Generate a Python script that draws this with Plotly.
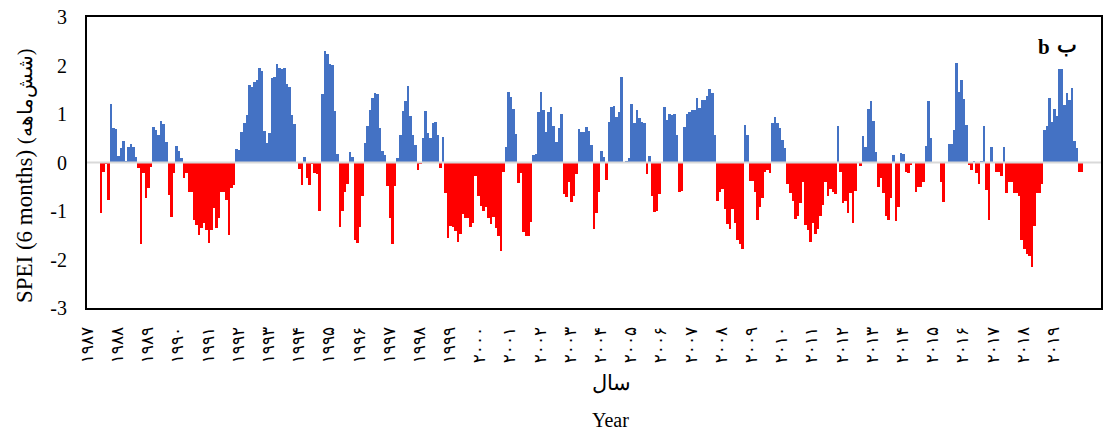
import plotly.graph_objects as go

# ---------------- data ----------------
years = list(range(1987, 2020))
persian_digits = str.maketrans("0123456789", "۰۱۲۳۴۵۶۷۸۹")
year_labels = [str(y).translate(persian_digits) for y in years]

y_tick_values = [-3, -2, -1, 0, 1, 2, 3]
y_tick_labels = ["-3", "-2", "-1", "0", "1", "2", "3"]

# monthly SPEI (6 months), Jan 1987 .. Dec 2019 (first 5 months undefined)
spei = [None, None, None, None, None,
    -1.04, -0.19, -0.03, -0.77, 1.21, 0.71, 0.69,            # 1987
    0.14, 0.29, 0.45, 0.04, 0.31, 0.38, 0.33, 0.12, -0.12, -1.69, -0.22, -0.73,   # 1988
    -0.53, -0.10, 0.73, 0.66, 0.56, 0.86, 0.79, 0.43, -0.67, -1.12, -0.21, 0.34,  # 1989
    0.23, 0.10, -0.31, -0.22, -0.60, -0.60, -1.18, -1.28, -1.50, -1.35, -1.25, -1.39,  # 1990
    -1.66, -1.39, -0.94, -1.35, -1.15, -0.60, -0.60, -0.77, -1.49, -0.53, -0.47, 0.27,  # 1991
    0.26, 0.62, 0.82, 0.97, 1.60, 1.55, 1.65, 1.70, 1.94, 1.89, 0.65, 0.40,      # 1992
    0.60, 1.74, 1.76, 2.04, 1.94, 1.92, 1.94, 1.62, 1.55, 0.98, 0.80, 0.00,      # 1993
    -0.14, -0.47, 0.11, -0.32, -0.47, -0.02, -0.21, -0.24, -0.99, 1.41, 2.30, 2.23,  # 1994
    2.04, 2.01, 1.07, 0.18, -1.33, -1.01, -0.60, -0.45, 0.21, 0.11, -1.60, -1.66,  # 1995
    -1.32, -0.70, 0.41, 0.75, 1.08, 1.32, 1.43, 1.41, 0.71, 0.24, 0.16, -0.49,   # 1996
    -1.15, -1.69, -0.49, 0.09, 0.57, 1.07, 1.26, 1.58, 0.95, 0.56, 0.36, -0.16,  # 1997
    -0.03, 0.51, 1.06, 0.60, 0.51, 0.81, 0.84, 0.56, -0.12, 0.53, -0.62, -1.56,  # 1998
    -1.30, -1.32, -1.42, -1.64, -1.47, -1.06, -1.15, -1.15, -1.32, -1.25, -0.27, -0.70,  # 1999
    -0.89, -0.99, -0.91, -1.15, -1.27, -1.12, -1.35, -1.52, -1.83, -0.19, 0.31, 1.45,  # 2000
    1.36, 1.10, 0.59, -0.43, -0.21, -1.44, -1.52, -1.51, -1.23, 0.16, 0.18, 1.04,  # 2001
    1.45, 1.08, 0.62, 1.05, 1.14, 0.75, 0.43, 0.71, 1.00, -0.65, -0.71, -0.41,   # 2002
    -0.82, -0.70, -0.23, 0.69, 0.62, 0.62, 0.74, 0.65, 0.36, -1.37, -1.04, -0.60,  # 2003
    0.24, 0.12, -0.37, 0.84, 1.15, 1.17, 0.93, 1.04, 1.76, 0.00, 0.02, 0.09,     # 2004
    1.20, 0.81, 1.08, 0.91, 0.84, 0.81, -0.23, 0.14, -0.70, -1.03, -0.99, -0.64,  # 2005
    0.00, 1.14, 0.88, 1.00, 0.98, 0.99, 0.57, -0.60, -0.58, 0.74, 1.00, 1.05,    # 2006
    1.08, 1.08, 1.34, 1.12, 1.29, 1.29, 1.37, 1.51, 1.44, 0.56, -0.80, -0.60,    # 2007
    -0.55, -0.95, -1.27, -1.37, -0.95, -1.25, -1.59, -1.69, -1.78, 0.77, 0.57, -0.39,  # 2008
    -0.39, -0.60, -1.19, -0.92, -0.73, -0.19, -0.16, -0.22, 0.81, 0.93, 0.81, 0.71,  # 2009
    0.47, 0.29, -0.45, -0.62, -0.80, -1.17, -1.11, -0.84, -0.41, -1.28, -1.40, -1.63,  # 2010
    -1.25, -1.47, -1.37, -1.11, -0.87, -0.41, -0.70, -0.54, -0.60, -0.65, 0.75, -0.19,  # 2011
    -0.84, -0.80, -1.04, -0.63, -1.25, -0.58, 0.00, -0.08, 0.55, 0.31, 1.10, 1.27,  # 2012
    0.86, 0.21, -0.51, -0.32, -0.63, -1.11, -1.18, -0.73, 0.16, -1.21, -0.91, 0.19,  # 2013
    0.17, -0.19, -0.21, -0.05, 0.00, -0.60, -0.51, -0.51, -0.41, 0.35, 1.26, 0.51,  # 2014
    0.00, 0.00, 0.00, -0.40, -0.82, 0.00, 0.38, 0.38, 0.66, 2.06, 1.46, 1.70,    # 2015
    1.30, 0.78, -0.05, -0.16, 0.02, -0.22, -0.44, 0.02, 0.75, -0.56, -1.19, 0.33,  # 2016
    0.00, -0.19, -0.19, -0.27, 0.31, -0.63, -0.41, -0.41, -0.62, -0.62, -0.70, -1.59,  # 2017
    -1.78, -1.89, -1.93, -2.16, -1.30, -0.62, -0.62, -0.44, 0.66, 0.75, 1.34, 0.84,  # 2018
    1.10, 0.95, 1.93, 1.93, 1.19, 1.44, 1.29, 1.53, 0.45, 0.29, -0.19, -0.19,    # 2019
]

month_index = list(range(len(spei)))
n_slots = 403            # category slots shown on the axis
year_ticks = [12 * k - 0.4 for k in range(len(years))]

bar_colors = ["#4472C4" if (v is not None and v >= 0) else "#FF0000" for v in spei]

# ---------------- figure ----------------
fig = go.Figure(go.Bar(
    x=month_index, y=spei, width=1.0,
    marker=dict(color=bar_colors, line=dict(width=0)),
    hoverinfo="x+y",
))

fig.update_layout(
    width=1105, height=437,
    margin=dict(l=87, r=2, t=17, b=129),
    plot_bgcolor="white", paper_bgcolor="white",
    bargap=0, showlegend=False,
)

fig.update_xaxes(
    range=[-0.5, n_slots - 0.5],
    tickmode="array", tickvals=year_ticks, ticktext=year_labels,
    tickangle=-90, ticks="",
    tickfont=dict(family="DejaVu Sans", size=17, color="black"),
    ticklabelstandoff=10,
    showline=True, mirror=True, linecolor="black", linewidth=2,
    showgrid=False, zeroline=False,
)
fig.update_yaxes(
    range=[-3, 3], tickmode="array", tickvals=y_tick_values, ticktext=y_tick_labels,
    ticks="",
    tickfont=dict(family="Liberation Serif", size=20, color="black"),
    ticklabelstandoff=14,
    showline=True, mirror=True, linecolor="black", linewidth=2,
    showgrid=False, zeroline=False,
)

# zero (category) axis line
fig.add_shape(type="line", xref="paper", yref="y", x0=0, x1=1, y0=0, y1=0,
              line=dict(color="#D9D9D9", width=2), layer="above")

def px_x(px):
    return (px - 87) / 1016.0

def px_y(py):
    return (308 - py) / 291.0

def label(text, px, py, size=20, angle=0, family="Liberation Serif"):
    fig.add_annotation(text=text, xref="paper", yref="paper",
                       x=px_x(px), y=px_y(py), xanchor="center", yanchor="middle",
                       textangle=angle, showarrow=False,
                       font=dict(family=family, size=size, color="black"))

label("SPEI (6 months) <span style='font-size:20px'>(شش‌ماهه)</span>", 24, 176, size=23, angle=-90)
label("سال", 613, 383, size=21)
label("Year", 612, 420, size=20)
label("<b>b</b>", 1046, 47, size=21)
label("<b>ب</b>", 1069, 45, size=21)

fig.write_html("out.html")
